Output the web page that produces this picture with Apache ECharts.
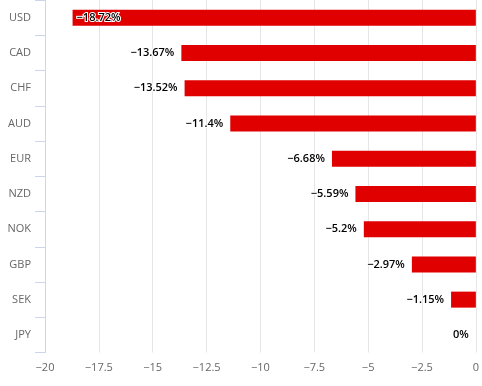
<!DOCTYPE html>
<html><head><meta charset="utf-8">
<script src="https://cdn.jsdelivr.net/npm/echarts@6/dist/echarts.min.js"></script>
<style>html,body{margin:0;padding:0;background:#fff}#c{width:482px;height:386px}</style>
</head><body><div id="c"></div>
<script>
const categories = ['USD','CAD','CHF','AUD','EUR','NZD','NOK','GBP','SEK','JPY'];
const values = [-18.72,-13.67,-13.52,-11.4,-6.68,-5.59,-5.2,-2.97,-1.15,0];
const xMin = -20, xMax = 0, xStep = 2.5;

const fmt = v => (v < 0 ? '\u2212' + String(Math.abs(v)) : String(v));
const chart = echarts.init(document.getElementById('c'));
chart.setOption({
  animation: false,
  grid: {left: 45, right: 6, top: 0, bottom: 33.5, containLabel: false},
  xAxis: {
    type: 'value', min: xMin, max: xMax, interval: xStep,
    axisLine: {show: false}, axisTick: {show: false},
    splitLine: {show: true, lineStyle: {color: '#e6e6e6', width: 1}},
    axisLabel: {color: '#666', fontSize: 11, margin: 10, fontFamily: 'Open Sans', formatter: v => fmt(v)}
  },
  yAxis: {
    type: 'category', data: categories, inverse: true, position: 'left',
    axisLine: {show: true, onZero: false, lineStyle: {color: '#ccd6eb'}},
    axisTick: {show: true, length: 10, lineStyle: {color: '#ccd6eb'}},
    axisLabel: {color: '#666', fontSize: 11, margin: 14, fontFamily: 'Open Sans'}
  },
  series: [{
    type: 'bar', barWidth: 16,
    itemStyle: {color: '#e00000'},
    data: values.map((v, i) => ({
      value: v,
      label: i === 0 ? {position: 'insideLeft', distance: 4} : {}
    })),
    label: {
      show: true, position: 'left', distance: 7,
      color: '#000', fontSize: 11, fontWeight: 600, fontFamily: 'Open Sans',
      textBorderColor: '#fff', textBorderWidth: 2,
      formatter: p => fmt(p.value) + '%'
    }
  }]
});
</script></body></html>
